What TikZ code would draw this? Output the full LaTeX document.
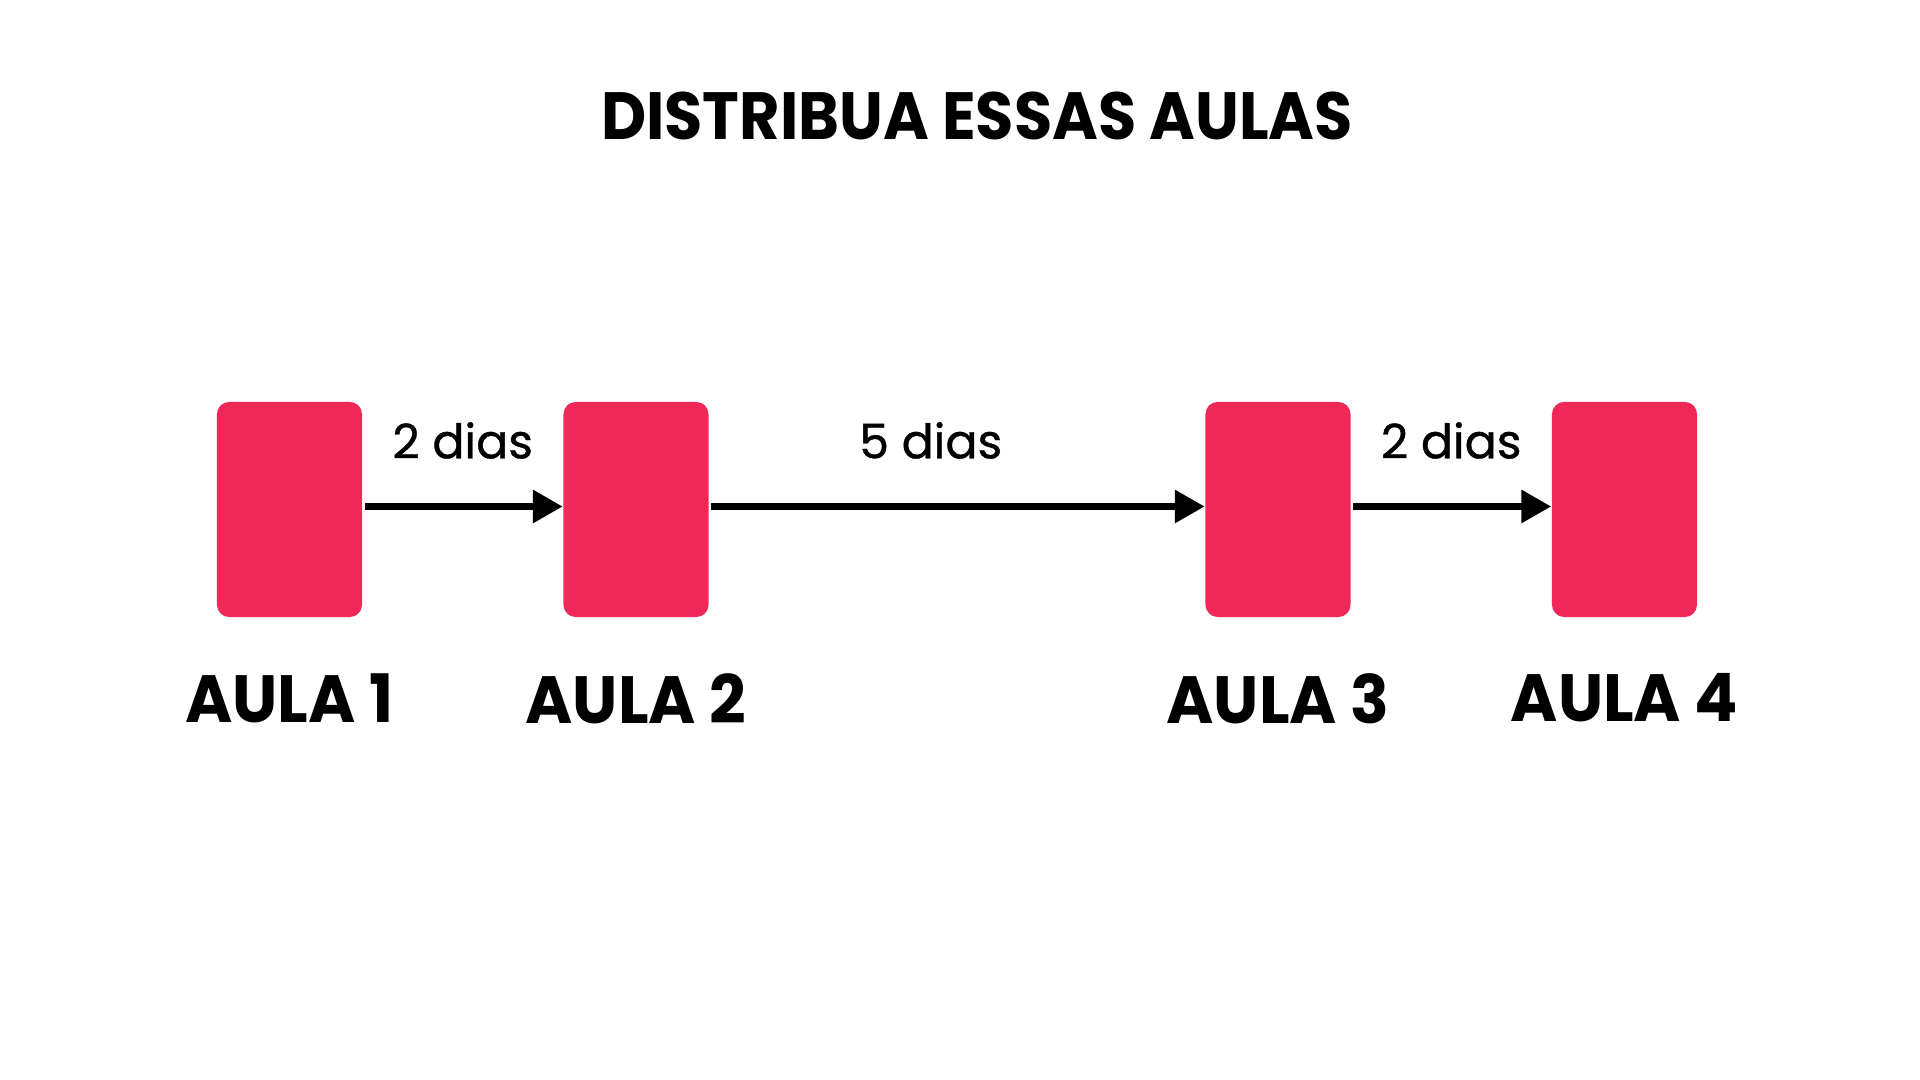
\documentclass[tikz,border=0pt]{standalone}
\usepackage{fontspec}
\setmainfont{Poppins}
\newfontfamily\headfont[FakeStretch=0.93]{Poppins}
\newfontfamily\capfont[FakeStretch=0.96]{Poppins}
\newfontfamily\diasfont[FakeBold=0.8]{Poppins}
\usepackage{tikz}
\usetikzlibrary{positioning,arrows.meta}
\definecolor{aulared}{RGB}{239,40,88}

\begin{document}
\begin{tikzpicture}[
    x=0.01cm, y=-0.01cm,
    aula/.style={rectangle, fill=aulared, rounded corners=3.5pt, minimum width=1.45cm, minimum height=2.15cm, inner sep=0pt},
    title/.style={font=\headfont\fontsize{19}{22}\selectfont\bfseries, inner sep=0pt},
    caption/.style={font=\capfont\fontsize{19}{22}\selectfont\bfseries, inner sep=0pt},
    dias/.style={font=\diasfont\fontsize{13.5}{16}\selectfont, midway, yshift=0.66cm},
    arrow/.style={-{Triangle[length=8.5pt,width=9pt]}, line width=2pt, shorten <=0.5pt}
]
    % Canvas
    \fill[white] (0,0) rectangle (1920,1080);
    \useasboundingbox (0,0) rectangle (1920,1080);

    % Title
    \node[title] (title) at (977,116) {DISTRIBUA ESSAS AULAS};

    % Lessons
    \node[aula] (aula1) at (289.5,509.5) {};
    \node[aula] (aula2) at (636,509.5) {};
    \node[aula] (aula3) at (1278,509.5) {};
    \node[aula] (aula4) at (1624.5,509.5) {};

    % Captions
    \node[caption, below=0.55cm of aula1] (cap1) {AULA 1};
    \node[caption, below=0.55cm of aula2] (cap2) {AULA 2};
    \node[caption, below=0.55cm of aula3] (cap3) {AULA 3};
    \node[caption, below=0.55cm of aula4] (cap4) {AULA 4};

    % Gaps between lessons
    \draw[arrow] ([yshift=0.03cm]aula1.east) -- node[dias] {2 dias} ([yshift=0.03cm]aula2.west);
    \draw[arrow] ([yshift=0.03cm]aula2.east) -- node[dias, pos=0.447] {5 dias} ([yshift=0.03cm]aula3.west);
    \draw[arrow] ([yshift=0.03cm]aula3.east) -- node[dias] {2 dias} ([yshift=0.03cm]aula4.west);
\end{tikzpicture}
\end{document}
